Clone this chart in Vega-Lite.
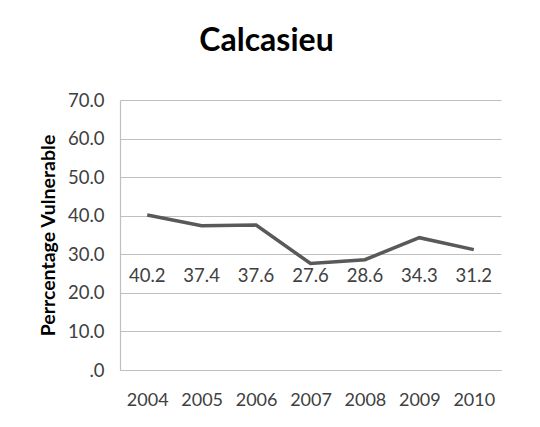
{
  "$schema": "https://vega.github.io/schema/vega-lite/v6.json",
  "autosize": {"type": "none"},
  "width": 381,
  "height": 270,
  "padding": {"left": 120, "top": 100, "right": 39, "bottom": 57},
  "background": "white",
  "config": {
    "font": "Lato",
    "view": {"stroke": null},
    "axis": {"domainColor": "#bfbfbf", "gridColor": "#bfbfbf", "gridWidth": 1.2, "domainWidth": 1.2, "ticks": false, "labelColor": "#404040", "labelFontSize": 18.5, "labelFont": "Lato", "labelOverlap": false}
  },
  "title": {"text": "Calcasieu", "fontSize": 32, "fontWeight": "bold", "font": "Lato", "color": "#000000", "anchor": "middle", "dx": -44, "offset": 33},
  "data": {"values": [
    {"year": "2004", "value": 40.2},
    {"year": "2005", "value": 37.4},
    {"year": "2006", "value": 37.6},
    {"year": "2007", "value": 27.6},
    {"year": "2008", "value": 28.6},
    {"year": "2009", "value": 34.3},
    {"year": "2010", "value": 31.2}
  ]},
  "encoding": {
    "x": {"field": "year", "type": "ordinal", "scale": {"paddingInner": 0, "paddingOuter": 0},
      "axis": {"title": null, "labelAngle": 0, "labelPadding": 30, "labelBaseline": "middle", "domain": true, "labelFontSize": 18}}
  },
  "layer": [
    {
      "mark": {"type": "line", "color": "#595959", "strokeWidth": 3.5},
      "encoding": {
        "y": {"field": "value", "type": "quantitative", "scale": {"domain": [0, 70], "nice": false, "zero": true},
          "axis": {"values": [0, 10, 20, 30, 40, 50, 60, 70], "tickCount": 8, "labelExpr": "datum.value == 0 ? '.0' : format(datum.value, '.1f')", "labelPadding": 16,
            "title": "Perrcentage Vulnerable", "titleFontSize": 19.5, "titleFontWeight": "bold", "titleColor": "#000000", "titleFont": "Lato",
            "titleAngle": -90, "titleX": -72, "titleY": 135, "titleAlign": "center", "titleBaseline": "middle"}}
      }
    },
    {
      "mark": {"type": "text", "fontSize": 18.5, "color": "#404040", "baseline": "middle", "font": "Lato"},
      "encoding": {
        "y": {"datum": 24.4, "type": "quantitative", "scale": {"domain": [0, 70], "nice": false, "zero": true},
          "axis": {"values": [0, 10, 20, 30, 40, 50, 60, 70], "tickCount": 8, "labelExpr": "datum.value == 0 ? '.0' : format(datum.value, '.1f')", "labelPadding": 16,
            "title": "Perrcentage Vulnerable", "titleFontSize": 19.5, "titleFontWeight": "bold", "titleColor": "#000000", "titleFont": "Lato",
            "titleAngle": -90, "titleX": -72, "titleY": 135, "titleAlign": "center", "titleBaseline": "middle"}},
        "text": {"field": "value", "type": "quantitative", "format": ".1f"}
      }
    }
  ]
}
